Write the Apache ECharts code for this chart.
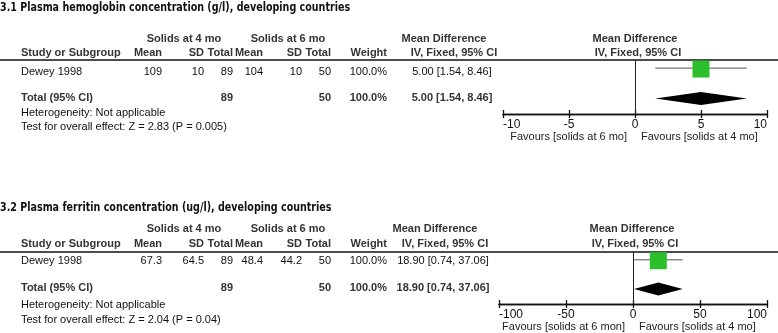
<!DOCTYPE html>
<html>
<head>
<meta charset="utf-8">
<script src="https://cdn.jsdelivr.net/npm/echarts@6/dist/echarts.min.js"></script>
<style>
  * { margin: 0; padding: 0; }
  body { background: #fff; }
  #main { width: 778px; height: 333px; }
</style>
</head>
<body>
<div id="main"></div>
<script>
// ---- 3.1 Plasma hemoglobin ----
var hbTitle = '3.1 Plasma hemoglobin concentration (g/l), developing countries';
var hbStudy = ['Dewey 1998'];
var hbMean4 = [109];
var hbSd4 = [10];
var hbN4 = [89];
var hbMean6 = [104];
var hbSd6 = [10];
var hbN6 = [50];
var hbWeight = [100.0];
var hbMD = [5.00];
var hbLo = [1.54];
var hbHi = [8.46];
var hbTotal = [89, 50, 100.0];        // n 4 mo, n 6 mo, weight
var hbTotalCI = [5.00, 1.54, 8.46];   // md, lower, upper
var hbTest = ['2.83', '0.005'];       // Z, P
var hbTicks = [-10, -5, 0, 5, 10];

// ---- 3.2 Plasma ferritin ----
var feTitle = '3.2 Plasma ferritin concentration (ug/l), developing countries';
var feStudy = ['Dewey 1998'];
var feMean4 = [67.3];
var feSd4 = [64.5];
var feN4 = [89];
var feMean6 = [48.4];
var feSd6 = [44.2];
var feN6 = [50];
var feWeight = [100.0];
var feMD = [18.90];
var feLo = [0.74];
var feHi = [37.06];
var feTotal = [89, 50, 100.0];
var feTotalCI = [18.90, 0.74, 37.06];
var feTest = ['2.04', '0.04'];
var feTicks = [-100, -50, 0, 50, 100];

var favLeft = ['Favours [solids at 6 mo]', 'Favours [solids at 6 mon]'];
var favRight = ['Favours [solids at 4 mo]', 'Favours [solids at 4 mo]'];

var FONT = "'Liberation Sans', Arial, sans-serif";
var TITLE_FONT = "'Liberation Sans Narrow', 'DejaVu Sans Condensed', sans-serif";
var cols = [162, 204, 233, 263, 302, 331, 387]; // right edges of numeric columns
var rowY = [0.6, 2.85]; // study row, total row on the hidden y axis

function txt(x, y, s, o) {
  o = o || {};
  return {
    type: 'text', x: x, y: y, silent: true,
    scaleX: o.scaleX || 1,
    style: {
      text: s,
      fill: o.fill || '#111',
      font: (o.bold ? 'bold ' : '') + (o.size || 11) + 'px ' + (o.family || FONT),
      textAlign: o.align || 'left',
      textVerticalAlign: 'middle'
    }
  };
}
function ci(md, lo, hi) {
  return md.toFixed(2) + ' [' + lo.toFixed(2) + ', ' + hi.toFixed(2) + ']';
}

var graphics = [];
var grids = [], xAxes = [], yAxes = [], series = [];

function panel(k, d, L) {
  var H = { fill: '#333', bold: true };
  graphics.push(txt(0, L.title, d.title, { bold: true, size: 12, family: TITLE_FONT, fill: '#111', scaleX: 0.885 }));
  graphics.push(txt(184, L.h1, 'Solids at 4 mo', Object.assign({ align: 'center' }, H)));
  graphics.push(txt(288, L.h1, 'Solids at 6 mo', Object.assign({ align: 'center' }, H)));
  graphics.push(txt(L.mdc - 8, L.h1, 'Mean Difference', Object.assign({ align: 'center' }, H)));
  graphics.push(txt(L.fc, L.h1, 'Mean Difference', Object.assign({ align: 'center' }, H)));
  graphics.push(txt(21, L.h2, 'Study or Subgroup', H));
  ['Mean', 'SD', 'Total', 'Mean', 'SD', 'Total', 'Weight'].forEach(function (h, i) {
    graphics.push(txt(cols[i], L.h2, h, Object.assign({ align: 'right' }, H)));
  });
  graphics.push(txt(L.mdc + 2, L.h2, 'IV, Fixed, 95% CI', Object.assign({ align: 'center' }, H)));
  graphics.push(txt(L.fc + 3, L.h2, 'IV, Fixed, 95% CI', Object.assign({ align: 'center' }, H)));
  graphics.push({ type: 'line', silent: true, shape: { x1: 0, y1: L.line, x2: 778, y2: L.line },
    style: { stroke: '#111', lineWidth: 1.5 } });

  d.study.forEach(function (s, i) {
    var vals = [d.m4[i], d.s4[i], d.n4[i], d.m6[i], d.s6[i], d.n6[i], d.w[i].toFixed(1) + '%'];
    graphics.push(txt(21, L.row, s));
    vals.forEach(function (v, j) { graphics.push(txt(cols[j], L.row, String(v), { align: 'right' })); });
    graphics.push(txt(L.mdc, L.row, ci(d.md[i], d.lo[i], d.hi[i]), { align: 'center' }));
  });

  var B = { bold: true, fill: '#333' };
  graphics.push(txt(21, L.total, 'Total (95% CI)', B));
  graphics.push(txt(cols[2], L.total, String(d.tot[0]), Object.assign({ align: 'right' }, B)));
  graphics.push(txt(cols[5], L.total, String(d.tot[1]), Object.assign({ align: 'right' }, B)));
  graphics.push(txt(cols[6], L.total, d.tot[2].toFixed(1) + '%', Object.assign({ align: 'right' }, B)));
  graphics.push(txt(L.mdc, L.total, ci(d.tci[0], d.tci[1], d.tci[2]), Object.assign({ align: 'center' }, B)));
  graphics.push(txt(21, L.het, 'Heterogeneity: Not applicable'));
  graphics.push(txt(21, L.test, 'Test for overall effect: Z = ' + d.test[0] + ' (P = ' + d.test[1] + ')'));

  var zeroX = L.left + L.width / 2;
  graphics.push(txt(zeroX - 8, L.fav, favLeft[k], { align: 'right', fill: '#222' }));
  graphics.push(txt(zeroX + 6, L.fav, favRight[k], { fill: '#222' }));

  // forest plot area
  grids.push({ left: L.left, top: L.line, width: L.width, height: L.h });
  var tk = d.ticks;
  [true, false].forEach(function (inside) {
    xAxes.push({
      type: 'value', gridIndex: k, position: 'bottom',
      min: tk[0], max: tk[tk.length - 1], interval: tk[1] - tk[0],
      axisLine: { show: true, onZero: false, lineStyle: { color: '#111', width: 1.3 } },
      axisTick: { show: true, inside: inside, length: 4, lineStyle: { color: '#111', width: 1.3 } },
      axisLabel: { show: !inside, margin: 5, color: '#111', fontSize: 12, fontFamily: FONT,
        alignMinLabel: 'left', alignMaxLabel: 'right' },
      splitLine: { show: false }
    });
  });
  yAxes.push({ type: 'value', gridIndex: k, min: 0, max: 4, inverse: true, show: false });

  var xi = k * 2 + 1;
  series.push({
    type: 'custom', xAxisIndex: xi, yAxisIndex: k, silent: true,
    data: d.study.map(function (s, i) { return [d.lo[i], rowY[0], d.hi[i]]; }),
    renderItem: function (p, api) {
      var a = api.coord([api.value(0), api.value(1)]);
      var b = api.coord([api.value(2), api.value(1)]);
      return { type: 'line', shape: { x1: a[0], y1: a[1], x2: b[0], y2: b[1] },
        style: { stroke: '#555', lineWidth: 1 } };
    },
    markLine: {
      silent: true, symbol: 'none', label: { show: false },
      lineStyle: { color: '#222', width: 1, type: 'solid' },
      data: [{ xAxis: 0 }]
    }
  });
  series.push({
    type: 'scatter', xAxisIndex: xi, yAxisIndex: k, silent: true,
    symbol: 'rect', symbolSize: 17,
    itemStyle: { color: '#2cbf2c', opacity: 1 },
    data: d.study.map(function (s, i) { return [d.md[i], rowY[0] + 0.07]; })
  });
  series.push({
    type: 'custom', xAxisIndex: xi, yAxisIndex: k, silent: true,
    data: [[d.tci[1], rowY[1], d.tci[2], d.tci[0]]],
    renderItem: function (p, api) {
      var y = api.value(1);
      var l = api.coord([api.value(0), y]);
      var r = api.coord([api.value(2), y]);
      var m = api.coord([api.value(3), y]);
      return { type: 'polygon',
        shape: { points: [l, [m[0], m[1] - 6.5], r, [m[0], m[1] + 6.5]] },
        style: { fill: '#000' } };
    }
  });
}

panel(0, {
  title: hbTitle, study: hbStudy, m4: hbMean4, s4: hbSd4, n4: hbN4, m6: hbMean6, s6: hbSd6, n6: hbN6,
  w: hbWeight, md: hbMD, lo: hbLo, hi: hbHi, tot: hbTotal, tci: hbTotalCI, test: hbTest, ticks: hbTicks
}, { title: 8, h1: 39, h2: 53, line: 60, row: 71.5, total: 98, het: 113, test: 127, fav: 137,
  mdc: 452, fc: 635, left: 503, width: 264, h: 54 });

panel(1, {
  title: feTitle, study: feStudy, m4: feMean4, s4: feSd4, n4: feN4, m6: feMean6, s6: feSd6, n6: feN6,
  w: feWeight, md: feMD, lo: feLo, hi: feHi, tot: feTotal, tci: feTotalCI, test: feTest, ticks: feTicks
}, { title: 208, h1: 229, h2: 244, line: 252, row: 261, total: 288, het: 305, test: 320, fav: 327,
  mdc: 443, fc: 632, left: 499, width: 268, h: 52 });

var chart = echarts.init(document.getElementById('main'), null, { renderer: 'canvas' });
chart.setOption({
  animation: false,
  backgroundColor: '#fff',
  grid: grids,
  xAxis: xAxes,
  yAxis: yAxes,
  series: series,
  graphic: graphics
});
</script>
</body>
</html>
